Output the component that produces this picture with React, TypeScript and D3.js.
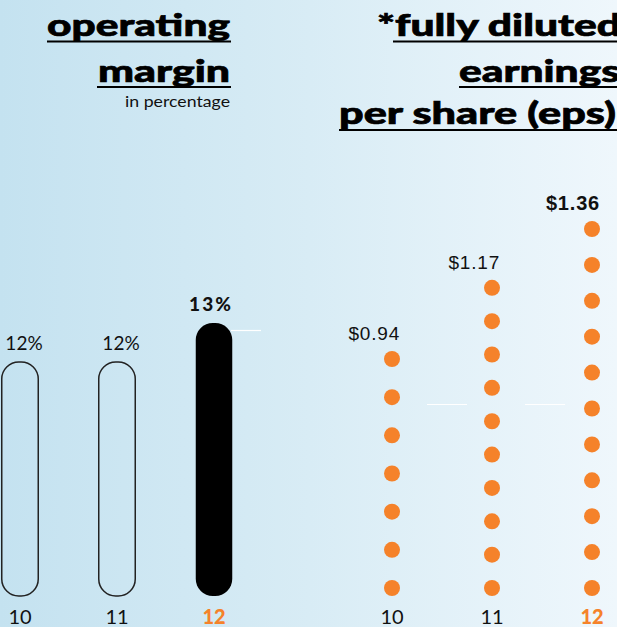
import React from "react";
import * as d3 from "d3";

const years = ["10", "11", "12"];
const marginValues = [12, 12, 13];
const marginLabels = ["12%", "12%", "13%"];
const epsValues = [0.94, 1.17, 1.36];
const epsLabels = ["$0.94", "$1.17", "$1.36"];
const epsDotCounts = [7, 10, 11];

const W = 617;
const H = 627;
const ORANGE = "#f5822a";
const GILL = "Lato, 'Open Sans', sans-serif";
const ARIAL = "'Liberation Sans', Arial, sans-serif";

export default function App() {
  const xL = d3.scalePoint<string>().domain(years).range([20, 214]);
  const yL = d3.scaleLinear().domain([6, 13]).range([596, 323]);
  const xR = d3.scalePoint<string>().domain(years).range([392, 592]);
  const yR = d3.scaleLinear().domain([0.94, 1.36]).range([359, 229]);
  const baseR = 588;
  const barW = 36.5;
  const last = years.length - 1;

  return (
    <svg
      width={W}
      height={H}
      style={{ position: "absolute", left: 0, top: 0, display: "block" }}
    >
      <defs>
        <linearGradient id="bg" x1="0" x2="1" y1="0" y2="0">
          <stop offset="0" stopColor="#c4e2f0" />
          <stop offset="0.5" stopColor="#d8ecf5" />
          <stop offset="1" stopColor="#eff7fc" />
        </linearGradient>
      </defs>
      <rect x={0} y={0} width={W} height={H} fill="url(#bg)" />

      {/* Left title */}
      <g fontFamily={GILL} fontWeight={900} fill="#000" stroke="#000" strokeWidth={0.7}>
        <text x={47} y={36} fontSize={31} textLength={183} lengthAdjust="spacingAndGlyphs">operating</text>
        <text x={98} y={81.5} fontSize={31} textLength={132} lengthAdjust="spacingAndGlyphs">margin</text>
      </g>
      <line x1={47} x2={231} y1={41.5} y2={41.5} stroke="#000" strokeWidth={2.2} />
      <line x1={97} x2={231} y1={87} y2={87} stroke="#000" strokeWidth={2.2} />
      <text x={125} y={107} fontFamily={GILL} fontSize={16} textLength={105} lengthAdjust="spacingAndGlyphs" fill="#111">in percentage</text>

      {/* Right title */}
      <g fontFamily={GILL} fontWeight={900} fill="#000" stroke="#000" strokeWidth={0.7}>
        <text x={377} y={36} fontSize={31} textLength={244} lengthAdjust="spacingAndGlyphs">*fully diluted</text>
        <text x={459} y={82} fontSize={31} textLength={161} lengthAdjust="spacingAndGlyphs">earnings</text>
        <text x={339} y={124} fontSize={31} textLength={277} lengthAdjust="spacingAndGlyphs">per share (eps)</text>
      </g>
      <line x1={393} x2={617} y1={41.5} y2={41.5} stroke="#000" strokeWidth={2.2} />
      <line x1={459} x2={617} y1={87} y2={87} stroke="#000" strokeWidth={2.2} />
      <line x1={339} x2={617} y1={130} y2={130} stroke="#000" strokeWidth={2.2} />

      {/* Operating margin bars */}
      {years.map((yr, i) => {
        const cx = xL(yr)!;
        const top = yL(marginValues[i]);
        const bottom = yL(6);
        const isLast = i === last;
        return (
          <g key={"m" + yr}>
            <rect
              x={cx - barW / 2}
              y={top}
              width={barW}
              height={bottom - top}
              rx={17}
              ry={17}
              fill={isLast ? "#000" : "none"}
              stroke={isLast ? "none" : "#222"}
              strokeWidth={1.5}
            />
            <text
              x={cx + (isLast ? -3 : 4)}
              y={top - 12}
              textAnchor="middle"
              fontFamily={GILL}
              fontSize={19}
              fontWeight={isLast ? 900 : 400}
              letterSpacing={isLast ? 2 : 0}
              fill="#111"
            >
              {marginLabels[i]}
            </text>
            <text
              x={cx}
              y={624}
              textAnchor="middle"
              fontFamily={GILL}
              fontSize={20}
              fontWeight={isLast ? 900 : 400}
              fill={isLast ? ORANGE : "#111"}
            >
              {yr}
            </text>
          </g>
        );
      })}
      <line x1={231} x2={261} y1={330.5} y2={330.5} stroke="#fff" strokeWidth={1.2} />

      {/* EPS dots */}
      <line x1={427} x2={467} y1={404.5} y2={404.5} stroke="#fff" strokeWidth={1.2} />
      <line x1={525} x2={565} y1={404.5} y2={404.5} stroke="#fff" strokeWidth={1.2} />
      {years.map((yr, i) => {
        const cx = xR(yr)!;
        const top = yR(epsValues[i]);
        const n = epsDotCounts[i];
        const yi = d3.scaleLinear().domain([0, n - 1]).range([baseR, top]);
        const isLast = i === last;
        return (
          <g key={"e" + yr}>
            {d3.range(n).map((k) => (
              <circle key={k} cx={cx} cy={yi(k)} r={8} fill={ORANGE} />
            ))}
            <text
              x={cx + 8}
              y={top - 19}
              textAnchor="end"
              fontFamily={ARIAL}
              fontSize={isLast ? 20 : 19}
              fontWeight={isLast ? 700 : 400}
              letterSpacing={0.8}
              fill="#111"
            >
              {epsLabels[i]}
            </text>
            <text
              x={cx}
              y={624}
              textAnchor="middle"
              fontFamily={GILL}
              fontSize={20}
              fontWeight={isLast ? 900 : 400}
              fill={isLast ? ORANGE : "#111"}
            >
              {yr}
            </text>
          </g>
        );
      })}
    </svg>
  );
}
